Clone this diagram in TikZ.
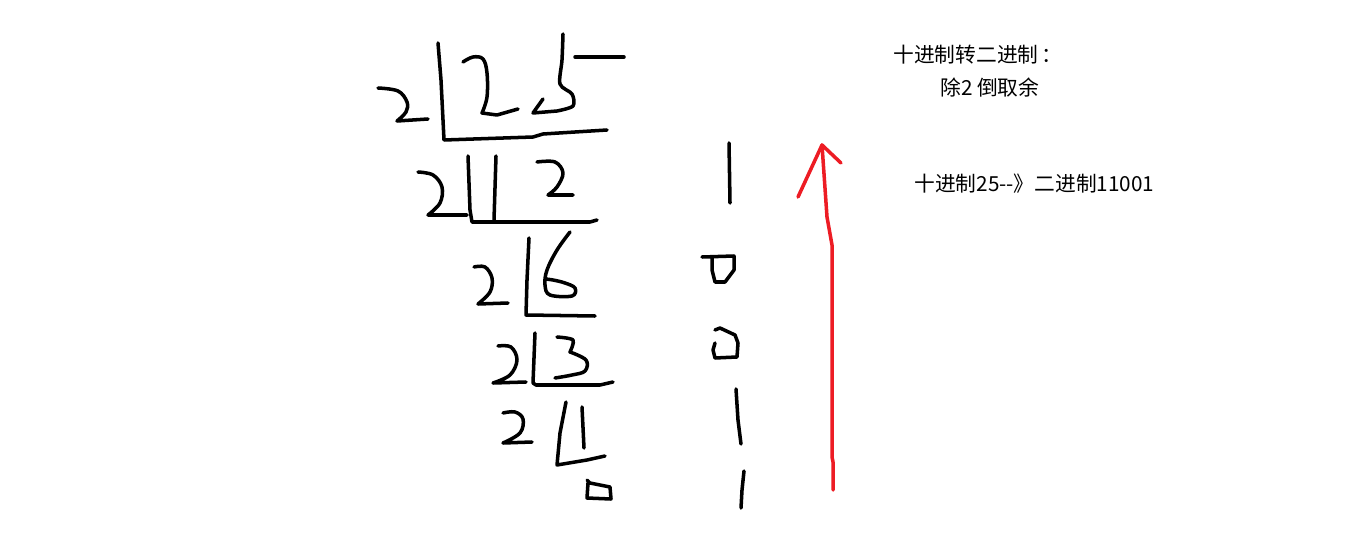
\documentclass[tikz,border=0pt]{standalone}
\usepackage{fontspec}
\newfontfamily\cjk{Noto Sans CJK SC}
\definecolor{arrowred}{HTML}{ED1C24}

\begin{document}
\begin{tikzpicture}[x=0.02cm,y=-0.02cm,
    pen/.style={line width=2pt, line cap=round, line join=round},
    redpen/.style={pen, draw=arrowred},
    note/.style={anchor=west, inner sep=0pt, font=\cjk\fontsize{11.8}{14}\selectfont}]
    \useasboundingbox (0,0) rectangle (1352,557);

    % 2 | 25
    \draw[pen] plot[smooth, tension=0.6] coordinates {(378,88) (398,91) (407,102) (406,112) (397,121)} -- (428,119);
    \draw[pen] (438,43) -- (441,80) -- (444,140) -- (533,137) -- (543,134) -- (607,130);
    \draw[pen] plot[smooth, tension=0.6] coordinates {(463,62) (473,57) (483,59) (487,73) (487,97) (482,113)} -- (497,115) -- (518,109);
    \draw[pen] plot[smooth, tension=0.5] coordinates {(563,34) (562,60) (560,84) (572,94) (573,106) (557,111)} -- (533,113) -- (543,99);
    \draw[pen] (575,57) -- (624,57);

    % 2 | 12
    \draw[pen] plot[smooth, tension=0.6] coordinates {(418,172) (433,175) (442,187) (440,203) (428,215)} -- (467,215);
    \draw[pen] (468,156) -- (470,210) -- (472,222) -- (590,222) -- (597,220);
    \draw[pen] (496,156) -- (494,220);
    \draw[pen] plot[smooth, tension=0.6] coordinates {(537,162) (555,162) (563,173) (557,187) (548,195)} -- (573,195);

    % 2 | 6
    \draw[pen] plot[smooth, tension=0.6] coordinates {(474,267) (485,267) (492,278) (490,292) (478,304)} -- (508,303);
    \draw[pen] (529,238) -- (527,280) -- (526,315) -- (595,316);
    \draw[pen] plot[smooth, tension=0.6] coordinates {(570,232) (557,250) (547,270) (545,285) (550,295) (572,296) (575,288) (565,283) (553,280) (545,279)};

    % 2 | 3
    \draw[pen] plot[smooth, tension=0.6] coordinates {(498,346) (511,347) (517,360) (510,375) (493,383)} -- (526,382);
    \draw[pen] (535,333) -- (533,383) -- (536,385) -- (600,385) -- (613,382);
    \draw[pen] plot[smooth, tension=0.5] coordinates {(557,337) (573,340) (570,352)} -- plot[smooth, tension=0.6] coordinates {(570,352) (586,360) (585,371) (572,375) (555,378)};

    % 2 | 1
    \draw[pen] plot[smooth, tension=0.6] coordinates {(503,413) (515,412) (523,419) (520,433) (503,443)} -- (532,442);
    \draw[pen] (566,402) -- (560,433) -- (557,465) -- (587,460) -- (605,456);
    \draw[pen] (582,407) -- (584,448);
    \draw[pen] (587,480) -- (590,483) -- (610,487) -- (611,499) -- (587,498) -- (588,483);

    % remainders
    \draw[pen] (729,143) -- (730,203);
    \draw[pen] (702,257) -- (734,256) -- (734,270) -- (725,282) -- (715,282) -- (712,270) -- (712,258);
    \draw[pen] (715,330) -- (720,328) -- (735,335) -- (738,343) -- (737,357) -- (715,358) -- (713,350) -- (715,343);
    \draw[pen] (736,389) -- (738,420) -- (741,444);
    \draw[pen] (744,471) -- (742,490) -- (741,508);

    % read upwards
    \coordinate (tail) at (833,490);
    \coordinate (tip) at (822,145);
    \draw[redpen] (tail) -- (833,462) -- (832,457) -- (832,245) -- (827,217) -- (tip);
    \draw[redpen] (798,197) -- (tip) -- (841,163);

    \node[note] (title) at (893,55) {十进制转二进制\,：};
    \node[note] (rule) at (940,88) {除2 倒取余};
    \node[note] (result) at (914,184) {十进制25--》二进制11001};
\end{tikzpicture}
\end{document}
